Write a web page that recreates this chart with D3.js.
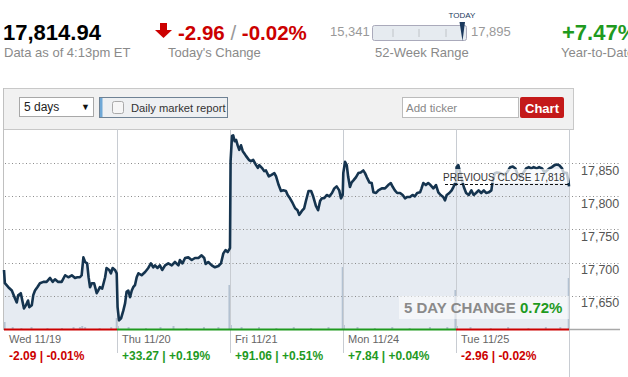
<!DOCTYPE html>
<html><head><meta charset="utf-8">
<script src="https://cdn.jsdelivr.net/npm/d3@7"></script>
<style>
body{margin:0;background:#fff;overflow:hidden;}
svg{display:block;font-family:"Liberation Sans",Arial,sans-serif;}
</style></head><body>
<svg id="c" width="628" height="377"></svg>
<script>
// ---------- data ----------
const dayLabels = ["Wed 11/19","Thu 11/20","Fri 11/21","Mon 11/24","Tue 11/25"];
const dayChange = ["-2.09","+33.27","+91.06","+7.84","-2.96"];
const dayPct    = ["-0.01%","+0.19%","+0.51%","+0.04%","-0.02%"];
const yTicks = [17650,17700,17750,17800,17850];
const prevClose = 17818;
// [minute since open, price]
const wed = [[0,17689],[3,17669],[15,17663],[27,17658],[38,17646],[44,17640],[49,17651],[58,17654],[65,17639],[69,17631],[76,17636],[83,17643],[87,17633],[96,17636],[101,17651],[107,17658],[115,17663],[124,17669],[136,17671],[147,17671],[159,17677],[168,17671],[176,17675],[187,17671],[199,17671],[211,17681],[222,17678],[234,17681],[245,17677],[253,17678],[262,17678],[268,17681],[274,17708],[280,17701],[287,17699],[292,17678],[297,17663],[303,17669],[311,17669],[320,17654],[325,17658],[331,17663],[339,17661],[349,17678],[354,17692],[363,17689],[369,17684],[375,17692],[383,17689],[389,17684]];
const thu = [[2,17633],[7,17613],[14,17616],[22,17628],[28,17639],[33,17656],[39,17658],[45,17648],[51,17658],[56,17663],[62,17666],[68,17678],[74,17684],[85,17681],[97,17686],[108,17692],[117,17699],[125,17693],[131,17696],[140,17692],[148,17696],[156,17689],[166,17696],[177,17699],[189,17696],[200,17701],[212,17696],[217,17704],[226,17699],[235,17707],[246,17708],[258,17704],[269,17707],[281,17707],[292,17711],[301,17707],[306,17698],[315,17701],[327,17696],[338,17693],[350,17695],[359,17699],[367,17714],[375,17719],[382,17716],[390,17722]];
const fri = [[2,17853],[7,17891],[11,17892],[16,17883],[21,17885],[27,17876],[32,17870],[38,17877],[44,17868],[49,17865],[55,17861],[65,17855],[72,17853],[80,17855],[90,17847],[96,17843],[101,17847],[110,17843],[118,17838],[124,17839],[134,17830],[142,17832],[153,17835],[159,17830],[168,17817],[176,17808],[184,17809],[193,17808],[199,17802],[207,17797],[216,17790],[225,17782],[233,17779],[239,17772],[248,17778],[256,17782],[262,17793],[271,17808],[280,17808],[287,17800],[297,17785],[304,17779],[311,17793],[317,17797],[325,17797],[334,17802],[343,17800],[352,17805],[360,17812],[368,17815],[377,17809],[383,17797],[389,17802]];
const mon = [[1,17835],[7,17852],[13,17847],[18,17829],[24,17814],[30,17821],[36,17824],[45,17829],[53,17835],[61,17836],[70,17839],[76,17835],[82,17829],[91,17821],[99,17820],[105,17806],[114,17805],[122,17809],[134,17812],[145,17812],[156,17817],[165,17820],[172,17814],[179,17809],[187,17805],[197,17805],[206,17802],[214,17797],[222,17799],[231,17799],[240,17802],[248,17800],[256,17805],[266,17806],[271,17812],[277,17820],[286,17817],[294,17820],[302,17817],[312,17812],[321,17817],[329,17806],[337,17802],[346,17799],[352,17794],[358,17802],[367,17805],[375,17809],[381,17814],[387,17820],[390,17818]];
const tue = [[2,17844],[8,17847],[18,17829],[27,17814],[35,17805],[44,17802],[53,17809],[61,17802],[69,17805],[78,17809],[87,17805],[96,17809],[104,17805],[113,17806],[122,17809],[127,17824],[134,17835],[141,17836],[153,17835],[165,17832],[176,17836],[187,17844],[196,17845],[205,17842],[214,17832],[222,17829],[233,17836],[242,17842],[251,17844],[260,17842],[268,17844],[279,17842],[287,17844],[297,17842],[306,17836],[314,17839],[322,17842],[331,17844],[340,17847],[348,17848],[356,17847],[366,17842],[371,17836],[383,17835],[389,17820],[390,17815]];
// [day, minute, volume]
const volume = [[0,2,7],[0,30,2],[0,60,1],[0,95,2],[0,150,1],[0,200,1],[0,240,2],[0,262,2],[0,270,3],[0,280,2],[0,330,1],[0,370,2],[0,389,11],
 [1,3,3],[1,40,2],[1,100,1],[1,150,2],[1,195,3],[1,240,1],[1,300,2],[1,350,2],[1,388,44],
 [2,3,4],[2,40,2],[2,100,2],[2,160,1],[2,220,2],[2,280,1],[2,340,2],[2,389,62],
 [3,3,4],[3,50,2],[3,110,1],[3,170,2],[3,230,1],[3,300,2],[3,360,2],[3,388,39],
 [4,3,3],[4,50,2],[4,120,1],[4,180,2],[4,250,1],[4,310,2],[4,360,2],[4,389,51]];

// ---------- scales ----------
const svg = d3.select("#c");
const L = 4, R = 569, T = 129, B = 329;
const x = d3.scaleLinear().domain([0,5]).range([L,R]);
const y = d3.scaleLinear().domain([17600,17901.5]).range([B,T]);
const yv = d3.scaleLinear().domain([0,200]).range([B,T]);
const pos = (d,m) => d + m/390;
const pts = [wed,thu,fri,mon,tue].flatMap((arr,i)=>arr.map(p=>({t:pos(i,p[0]),v:p[1]})));

const RED="#cc0000", GREEN="#1f9a1f", GRAY="#8a8a8a";

// ---------- header ----------
const H = svg.append("g");
H.append("text").attr("x",3).attr("y",40).attr("font-size",22).attr("font-weight","bold").attr("fill","#000").text("17,814.94");
H.append("text").attr("x",4).attr("y",57).attr("font-size",13).attr("fill",GRAY).text("Data as of 4:13pm ET");
H.append("path").attr("d","M160,23H167V30H172L163.5,38L155,30H160Z").attr("fill",RED);
const ch = H.append("text").attr("x",178).attr("y",40).attr("font-size",20.5).attr("font-weight","bold").attr("fill",RED);
ch.append("tspan").text("-2.96 ");
ch.append("tspan").attr("fill","#999").attr("font-weight","normal").text("/");
ch.append("tspan").text(" -0.02%");
H.append("text").attr("x",168).attr("y",57).attr("font-size",13).attr("fill",GRAY).text("Today's Change");
H.append("text").attr("x",330).attr("y",36).attr("font-size",13).attr("fill","#999").text("15,341");
H.append("rect").attr("x",372.5).attr("y",25.5).attr("width",94).attr("height",15).attr("rx",2).attr("fill","#e6ebf0").attr("stroke","#aab");
[393,419,446].forEach(v=>H.append("line").attr("x1",v).attr("x2",v).attr("y1",29).attr("y2",37).attr("stroke","#c0c4c8"));
H.append("path").attr("d","M459.5,22L465,22L462.5,41Z").attr("fill","#1c3a5e");
H.append("text").attr("x",462).attr("y",17.5).attr("font-size",8).attr("text-anchor","middle").attr("fill","#1c3a5e").text("TODAY");
H.append("text").attr("x",471).attr("y",36).attr("font-size",13).attr("fill","#999").text("17,895");
H.append("text").attr("x",375).attr("y",57).attr("font-size",13).attr("fill",GRAY).text("52-Week Range");
H.append("text").attr("x",562).attr("y",40).attr("font-size",22).attr("font-weight","bold").attr("fill",GREEN).text("+7.47%");
H.append("text").attr("x",561).attr("y",57).attr("font-size",13).attr("fill",GRAY).text("Year-to-Date");

// ---------- toolbar ----------
const TB = svg.append("g");
TB.append("rect").attr("x",3.5).attr("y",88.5).attr("width",570).attr("height",41).attr("fill","#f1f1f1").attr("stroke","#c8c8c8");
TB.append("rect").attr("x",19.5).attr("y",97.5).attr("width",74).attr("height",19).attr("fill","#fff").attr("stroke","#a8a8a8");
TB.append("text").attr("x",24).attr("y",111).attr("font-size",12).attr("fill","#222").text("5 days");
TB.append("text").attr("x",81).attr("y",110).attr("font-size",9).attr("fill","#111").text("▼");
TB.append("rect").attr("x",99.5).attr("y",97.5).attr("width",128).attr("height",20).attr("fill","#eef0f2").attr("stroke","#6f8294");
TB.append("rect").attr("x",100).attr("y",98).attr("width",2.5).attr("height",19).attr("fill","#6fa8d6");
TB.append("rect").attr("x",112.5).attr("y",101.5).attr("width",11).attr("height",12).attr("rx",2).attr("fill","#f6f6f6").attr("stroke","#aaa");
TB.append("text").attr("x",131).attr("y",112).attr("font-size",11.2).attr("fill","#333").text("Daily market report");
TB.append("rect").attr("x",402.5).attr("y",97.5).attr("width",116).attr("height",20).attr("fill","#fff").attr("stroke","#bbb");
TB.append("text").attr("x",406).attr("y",112).attr("font-size",11.5).attr("fill","#888").text("Add ticker");
TB.append("rect").attr("x",520).attr("y",97).attr("width",44).attr("height",21).attr("rx",2).attr("fill","#c41a1a");
TB.append("text").attr("x",542).attr("y",112.5).attr("font-size",13).attr("font-weight","bold").attr("text-anchor","middle").attr("fill","#fff").text("Chart");

// ---------- plot ----------
const P = svg.append("g");
P.append("path").datum(pts)
 .attr("d", d3.area().x(d=>x(d.t)).y0(B).y1(d=>y(d.v)))
 .attr("fill","#e6ebf2");
// gridlines + right axis
P.selectAll("line.g").data(yTicks).join("line")
 .attr("x1",L+1).attr("x2",620).attr("y1",d=>Math.round(y(d))+0.5).attr("y2",d=>Math.round(y(d))+0.5)
 .attr("stroke","#8c8c8c").attr("stroke-dasharray","1,2.5");
const ax = P.append("g").attr("transform",`translate(${R+9},7)`)
 .call(d3.axisRight(y).tickValues(yTicks).tickSize(0).tickFormat(d3.format(",")));
ax.select(".domain").remove();
ax.selectAll("text").attr("font-size",12.5).attr("fill","#555").attr("font-family","Liberation Sans, Arial, sans-serif");
// volume
P.selectAll("rect.v").data(volume).join("rect")
 .attr("x",d=>x(pos(d[0],d[1]))-1).attr("width",2)
 .attr("y",d=>yv(d[2])).attr("height",d=>B-yv(d[2]))
 .attr("fill","#b3c1d1");
// separators
[1,2,3,4].forEach(i=>P.append("line").attr("x1",Math.round(x(i))+0.5).attr("x2",Math.round(x(i))+0.5).attr("y1",T).attr("y2",353).attr("stroke","#c8ccd2"));
P.append("line").attr("x1",R+0.5).attr("x2",R+0.5).attr("y1",T).attr("y2",377).attr("stroke","#c8ccd2");
P.append("line").attr("x1",3.5).attr("x2",3.5).attr("y1",88).attr("y2",B+1).attr("stroke","#c0c0c0");
// price line
P.append("path").datum(pts)
 .attr("d", d3.line().x(d=>x(d.t)).y(d=>y(d.v)))
 .attr("fill","none").attr("stroke","#15344f").attr("stroke-width",2.6).attr("stroke-linejoin","round");
// previous close label
P.append("rect").attr("x",440).attr("y",169).attr("width",R-440).attr("height",14).attr("fill","#fff").attr("opacity",0.72);
P.append("line").attr("x1",445).attr("x2",R).attr("y1",Math.round(y(prevClose))+0.5).attr("y2",Math.round(y(prevClose))+0.5)
 .attr("stroke","#111").attr("stroke-dasharray","3,2");
P.append("text").attr("x",443).attr("y",180.5).attr("font-size",10).attr("fill","#333").text("PREVIOUS CLOSE " + d3.format(",")(prevClose));
// 5 day change box
P.append("rect").attr("x",399).attr("y",296).attr("width",R-399).attr("height",23).attr("fill","#fff").attr("opacity",0.55);
const fd = P.append("text").attr("x",404).attr("y",313).attr("font-size",15).attr("font-weight","bold");
fd.append("tspan").attr("fill","#8a8a8a").text("5 DAY CHANGE ");
fd.append("tspan").attr("fill",GREEN).text("0.72%");
// colored baseline
P.append("line").attr("x1",R).attr("x2",620).attr("y1",B+0.5).attr("y2",B+0.5).attr("stroke","#a8a8a8").attr("stroke-width",1.5);
dayChange.forEach((c,i)=>{
  const col = c[0]==="-"?RED:GREEN;
  P.append("line").attr("x1",x(i)).attr("x2",x(i+1)).attr("y1",B+0.5).attr("y2",B+0.5).attr("stroke",col).attr("stroke-width",2);
  P.append("text").attr("x",x(i)+5).attr("y",343).attr("font-size",11).attr("fill","#666").text(dayLabels[i]);
  P.append("text").attr("x",x(i)+5).attr("y",360).attr("font-size",12).attr("font-weight","bold").attr("fill",col).text(c+" | "+dayPct[i]);
});
</script>
</body></html>
